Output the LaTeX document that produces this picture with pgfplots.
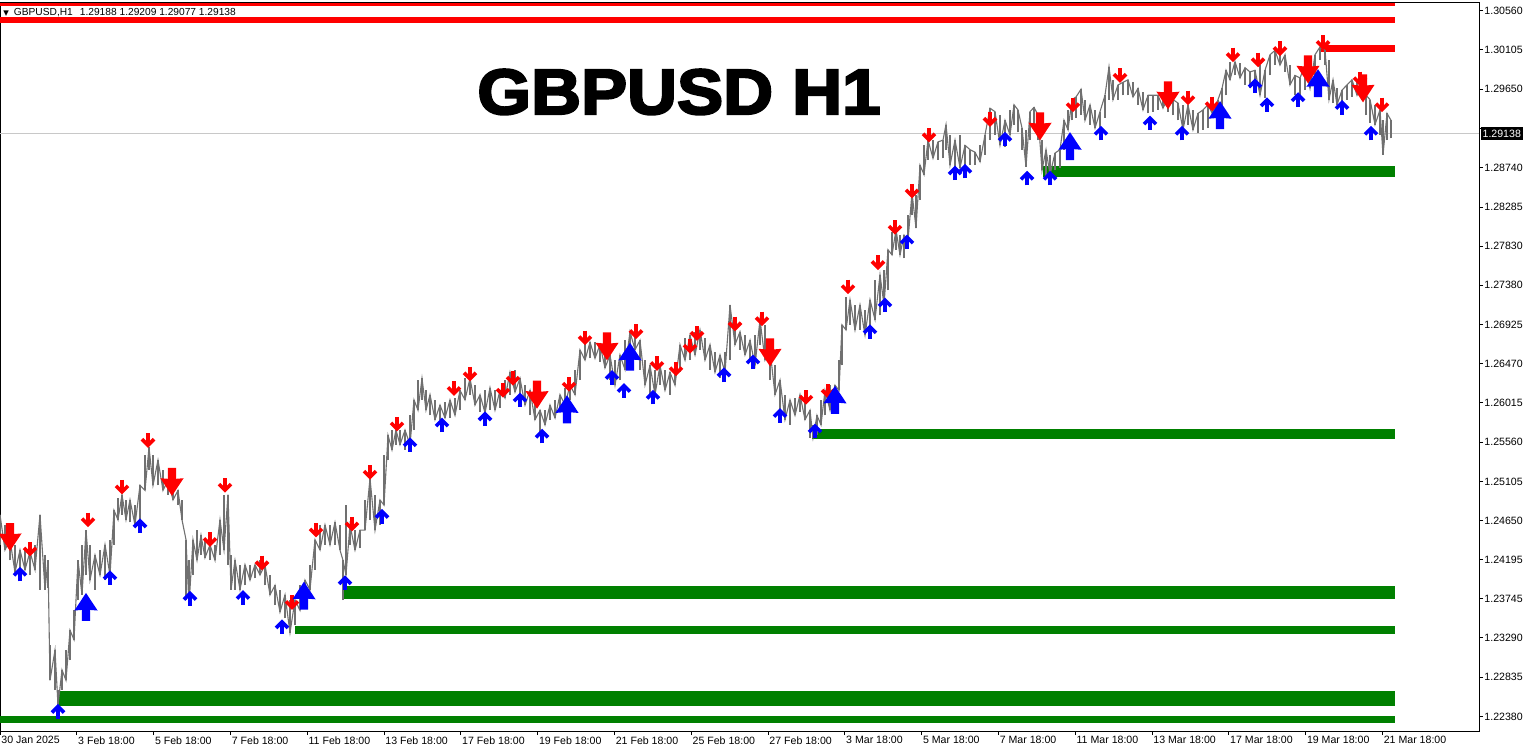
\documentclass[border=0pt]{standalone}
\usepackage{pgfplots}
\pgfplotsset{compat=1.18}
\usepackage{pgfplotstable}
\usepackage{fontspec}
\setmainfont{Liberation Sans}
\newfontfamily\titlefont{Liberation Sans}[BoldFeatures={FakeBold=3.5,FakeStretch=1.08}]
\newfontfamily\dejavu{DejaVu Sans}
\definecolor{mtred}{RGB}{255,0,0}
\definecolor{mtgreen}{RGB}{0,128,0}
\definecolor{mtblue}{RGB}{0,0,255}
\definecolor{barg}{RGB}{112,112,112}
\definecolor{cpline}{RGB}{200,200,200}

\pgfdeclareplotmark{sdn}{%
  \pgfsetlinewidth{1.8pt}\pgfsetbuttcap\pgfsetmiterjoin
  \pgfpathmoveto{\pgfpoint{0pt}{3.6pt}}\pgfpathlineto{\pgfpoint{0pt}{-2.0pt}}\pgfusepathqstroke
  \pgfpathmoveto{\pgfpoint{-3.0pt}{0.6pt}}\pgfpathlineto{\pgfpoint{0pt}{-2.4pt}}\pgfpathlineto{\pgfpoint{3.0pt}{0.6pt}}\pgfusepathqstroke}
\pgfdeclareplotmark{sup}{%
  \pgfsetlinewidth{1.8pt}\pgfsetbuttcap\pgfsetmiterjoin
  \pgfpathmoveto{\pgfpoint{0pt}{-3.6pt}}\pgfpathlineto{\pgfpoint{0pt}{2.0pt}}\pgfusepathqstroke
  \pgfpathmoveto{\pgfpoint{-3.0pt}{-0.6pt}}\pgfpathlineto{\pgfpoint{0pt}{2.4pt}}\pgfpathlineto{\pgfpoint{3.0pt}{-0.6pt}}\pgfusepathqstroke}
\pgfdeclareplotmark{bdn}{%
  \pgfpathmoveto{\pgfpoint{-2.1pt}{7pt}}\pgfpathlineto{\pgfpoint{2.1pt}{7pt}}
  \pgfpathlineto{\pgfpoint{2.1pt}{1.5pt}}\pgfpathlineto{\pgfpoint{5.8pt}{1.8pt}}
  \pgfpathlineto{\pgfpoint{0pt}{-7pt}}\pgfpathlineto{\pgfpoint{-5.8pt}{1.8pt}}
  \pgfpathlineto{\pgfpoint{-2.1pt}{1.5pt}}\pgfpathclose\pgfusepathqfill}
\pgfdeclareplotmark{bup}{%
  \pgfpathmoveto{\pgfpoint{-2.1pt}{-7pt}}\pgfpathlineto{\pgfpoint{2.1pt}{-7pt}}
  \pgfpathlineto{\pgfpoint{2.1pt}{-1.5pt}}\pgfpathlineto{\pgfpoint{5.8pt}{-1.8pt}}
  \pgfpathlineto{\pgfpoint{0pt}{7pt}}\pgfpathlineto{\pgfpoint{-5.8pt}{-1.8pt}}
  \pgfpathlineto{\pgfpoint{-2.1pt}{-1.5pt}}\pgfpathclose\pgfusepathqfill}

\pgfplotstableread{
x hi lo
0 1.2472 1.2437
5 1.2460 1.2431
10 1.2443 1.2419
15 1.2437 1.2405
20 1.2431 1.2402
25 1.2433 1.2408
30 1.2429 1.2402
35 1.2437 1.2408
40 1.2472 1.2385
45 1.2425 1.2385
48 1.2419 1.2387
50 1.2321 1.2280
55 1.2315 1.2269
58 1.2269 1.2251
62 1.2292 1.2269
66 1.2315 1.2280
70 1.2338 1.2303
74 1.2361 1.2327
78 1.2419 1.2373
82 1.2437 1.2379
86 1.2454 1.2402
90 1.2437 1.2396
95 1.2425 1.2385
100 1.2431 1.2402
105 1.2437 1.2396
110 1.2443 1.2402
114 1.2477 1.2437
118 1.2491 1.2466
122 1.2495 1.2472
126 1.2489 1.2466
130 1.2489 1.2463
135 1.2483 1.2460
140 1.2506 1.2466
145 1.2541 1.2500
149 1.2550 1.2524
153 1.2541 1.2506
158 1.2535 1.2506
163 1.2524 1.2500
168 1.2512 1.2495
173 1.2506 1.2489
178 1.2500 1.2483
182 1.2489 1.2466
186 1.2443 1.2373
189 1.2419 1.2367
193 1.2443 1.2402
197 1.2454 1.2419
201 1.2448 1.2425
205 1.2443 1.2422
210 1.2437 1.2419
215 1.2437 1.2419
220 1.2466 1.2425
224 1.2495 1.2431
228 1.2495 1.2414
231 1.2425 1.2385
235 1.2419 1.2385
240 1.2414 1.2385
245 1.2414 1.2390
250 1.2414 1.2396
255 1.2414 1.2398
260 1.2419 1.2402
265 1.2414 1.2390
270 1.2402 1.2379
275 1.2390 1.2367
280 1.2385 1.2359
285 1.2379 1.2352
290 1.2373 1.2335
295 1.2373 1.2344
300 1.2390 1.2361
305 1.2396 1.2373
310 1.2414 1.2385
315 1.2443 1.2408
320 1.2460 1.2431
325 1.2460 1.2437
330 1.2460 1.2437
335 1.2463 1.2437
340 1.2460 1.2431
343 1.2419 1.2373
346 1.2483 1.2402
350 1.2460 1.2437
355 1.2454 1.2431
360 1.2454 1.2433
365 1.2489 1.2454
370 1.2514 1.2466
375 1.2495 1.2454
380 1.2489 1.2460
384 1.2541 1.2483
388 1.2564 1.2535
392 1.2570 1.2547
396 1.2570 1.2553
400 1.2570 1.2553
405 1.2570 1.2547
410 1.2587 1.2553
414 1.2605 1.2570
418 1.2628 1.2593
422 1.2630 1.2605
426 1.2616 1.2593
430 1.2611 1.2587
435 1.2605 1.2582
440 1.2599 1.2582
445 1.2602 1.2584
450 1.2605 1.2584
455 1.2607 1.2587
460 1.2616 1.2593
465 1.2630 1.2605
470 1.2630 1.2611
475 1.2622 1.2599
480 1.2611 1.2591
485 1.2616 1.2590
490 1.2619 1.2593
495 1.2616 1.2593
500 1.2616 1.2596
505 1.2628 1.2607
510 1.2637 1.2611
515 1.2640 1.2614
520 1.2630 1.2607
525 1.2622 1.2599
530 1.2616 1.2587
535 1.2611 1.2582
540 1.2593 1.2568
545 1.2593 1.2576
550 1.2599 1.2582
555 1.2605 1.2584
560 1.2611 1.2593
565 1.2619 1.2599
570 1.2622 1.2605
575 1.2640 1.2611
580 1.2663 1.2628
585 1.2674 1.2651
590 1.2672 1.2653
595 1.2672 1.2653
600 1.2669 1.2649
605 1.2663 1.2642
610 1.2657 1.2628
615 1.2651 1.2622
620 1.2657 1.2628
625 1.2674 1.2640
630 1.2684 1.2657
635 1.2686 1.2663
640 1.2674 1.2640
645 1.2651 1.2622
650 1.2645 1.2611
655 1.2640 1.2611
660 1.2645 1.2622
665 1.2640 1.2616
670 1.2637 1.2611
675 1.2642 1.2622
680 1.2669 1.2637
685 1.2677 1.2651
690 1.2680 1.2651
695 1.2684 1.2657
700 1.2686 1.2663
705 1.2677 1.2651
710 1.2669 1.2640
715 1.2660 1.2637
720 1.2657 1.2630
725 1.2660 1.2637
730 1.2715 1.2651
735 1.2692 1.2669
740 1.2684 1.2663
745 1.2680 1.2657
750 1.2674 1.2651
755 1.2680 1.2645
760 1.2698 1.2669
765 1.2692 1.2651
770 1.2663 1.2628
775 1.2645 1.2611
780 1.2628 1.2593
785 1.2611 1.2582
790 1.2605 1.2576
795 1.2607 1.2587
800 1.2611 1.2591
805 1.2611 1.2582
810 1.2593 1.2561
813 1.2576 1.2561
817 1.2587 1.2564
821 1.2605 1.2576
825 1.2616 1.2587
830 1.2622 1.2593
835 1.2622 1.2599
839 1.2651 1.2616
842 1.2692 1.2645
846 1.2724 1.2686
850 1.2721 1.2692
855 1.2715 1.2686
860 1.2715 1.2686
865 1.2709 1.2680
870 1.2721 1.2692
875 1.2744 1.2698
880 1.2750 1.2703
884 1.2756 1.2715
888 1.2779 1.2732
892 1.2800 1.2773
896 1.2802 1.2779
900 1.2796 1.2773
904 1.2796 1.2769
908 1.2819 1.2790
912 1.2845 1.2819
916 1.2842 1.2804
920 1.2877 1.2837
924 1.2900 1.2866
928 1.2906 1.2883
933 1.2906 1.2885
938 1.2904 1.2883
943 1.2906 1.2885
946 1.2924 1.2895
950 1.2912 1.2877
955 1.2906 1.2871
960 1.2912 1.2874
965 1.2900 1.2874
970 1.2895 1.2877
975 1.2892 1.2877
980 1.2900 1.2881
985 1.2912 1.2889
990 1.2943 1.2906
995 1.2939 1.2912
1000 1.2935 1.2900
1005 1.2929 1.2898
1010 1.2941 1.2912
1014 1.2947 1.2924
1018 1.2941 1.2915
1022 1.2920 1.2895
1026 1.2918 1.2875
1030 1.2939 1.2906
1034 1.2944 1.2918
1038 1.2935 1.2906
1042 1.2906 1.2871
1046 1.2895 1.2863
1050 1.2889 1.2866
1055 1.2891 1.2871
1060 1.2895 1.2874
1064 1.2929 1.2895
1068 1.2941 1.2918
1072 1.2953 1.2929
1076 1.2956 1.2932
1081 1.2965 1.2935
1085 1.2953 1.2929
1090 1.2947 1.2924
1095 1.2941 1.2920
1100 1.2939 1.2918
1105 1.2958 1.2932
1109 1.2991 1.2953
1113 1.2976 1.2953
1118 1.2970 1.2953
1123 1.2973 1.2958
1128 1.2976 1.2958
1133 1.2973 1.2956
1138 1.2966 1.2947
1143 1.2962 1.2941
1148 1.2958 1.2937
1153 1.2958 1.2939
1158 1.2958 1.2941
1163 1.2958 1.2943
1168 1.2955 1.2939
1173 1.2953 1.2935
1178 1.2949 1.2929
1183 1.2947 1.2918
1188 1.2947 1.2924
1193 1.2941 1.2918
1198 1.2937 1.2914
1203 1.2941 1.2918
1208 1.2947 1.2920
1213 1.2953 1.2935
1218 1.2953 1.2939
1222 1.2966 1.2943
1226 1.2987 1.2958
1230 1.2997 1.2976
1235 1.2997 1.2981
1240 1.2995 1.2978
1245 1.2990 1.2970
1250 1.2985 1.2966
1255 1.2987 1.2964
1260 1.2993 1.2958
1265 1.2987 1.2955
1270 1.3005 1.2981
1275 1.3010 1.2993
1280 1.3008 1.2993
1285 1.3005 1.2985
1290 1.2993 1.2970
1295 1.2981 1.2958
1300 1.2978 1.2955
1305 1.2993 1.2964
1310 1.2999 1.2966
1315 1.3005 1.2976
1320 1.3014 1.2999
1325 1.3010 1.2993
1329 1.2999 1.2953
1333 1.2976 1.2949
1337 1.2966 1.2947
1342 1.2964 1.2947
1347 1.2970 1.2953
1352 1.2976 1.2956
1357 1.2973 1.2958
1362 1.2970 1.2953
1366 1.2958 1.2935
1370 1.2953 1.2926
1375 1.2947 1.2924
1380 1.2941 1.2912
1383 1.2929 1.2889
1387 1.2937 1.2906
1391 1.2929 1.2908
}\bars

\begin{document}
\begin{tikzpicture}
\useasboundingbox (0,-10.5pt) rectangle (766pt,365.5pt);
\fill[white] (0,-10.5pt) rectangle (766pt,365.5pt);
\begin{axis}[
  at={(0,0)}, anchor=south west, scale only axis,
  width=739.5pt, height=364.5pt,
  xmin=0, xmax=1479, ymin=1.22212, ymax=1.30661,
  axis line style={black, line width=0.5pt},
  tick align=outside, major tick length=2pt,
  tick style={black, line width=0.5pt},
  xtick pos=bottom, ytick pos=right, yticklabel pos=right,
  xtick={0,76.8,153.6,230.4,307.2,384,460.8,537.6,614.4,691.2,768,844.8,921.6,998.4,1075.2,1152,1228.8,1305.6,1382.4},
  xticklabels={30 Jan 2025,3 Feb 18:00,5 Feb 18:00,7 Feb 18:00,11 Feb 18:00,13 Feb 18:00,17 Feb 18:00,19 Feb 18:00,21 Feb 18:00,25 Feb 18:00,27 Feb 18:00,3 Mar 18:00,5 Mar 18:00,7 Mar 18:00,11 Mar 18:00,13 Mar 18:00,17 Mar 18:00,19 Mar 18:00,21 Mar 18:00},
  ytick={1.30560,1.30105,1.29650,1.29195,1.28740,1.28285,1.27830,1.27380,1.26925,1.26470,1.26015,1.25560,1.25105,1.24650,1.24195,1.23745,1.23290,1.22835,1.22380},
  yticklabels={1.30560,1.30105,1.29650,,1.28740,1.28285,1.27830,1.27380,1.26925,1.26470,1.26015,1.25560,1.25105,1.24650,1.24195,1.23745,1.23290,1.22835,1.22380},
  ticklabel style={font=\fontsize{5.3}{6}\selectfont, inner sep=0.5pt},
  xticklabel style={anchor=north west, xshift=0pt},
  yticklabel style={anchor=west},
  /pgf/number format/assume math mode=true,
  clip=true,
]
% current price line
\addplot[cpline, line width=0.5pt, forget plot] coordinates {(0,1.29138) (1479,1.29138)};
% red zones
\addplot[mtred, line width=1.5pt, forget plot] coordinates {(0,1.30632) (1395,1.30632)};
\addplot[mtred, line width=3pt, forget plot] coordinates {(0,1.30452) (1395,1.30452)};
\addplot[mtred, line width=3.5pt, forget plot] coordinates {(1321,1.3012) (1395,1.3012)};
% green zones
\addplot[mtgreen, line width=5.5pt, forget plot] coordinates {(1043,1.2870) (1395,1.2870)};
\addplot[mtgreen, line width=5pt, forget plot] coordinates {(812,1.2566) (1395,1.2566)};
\addplot[mtgreen, line width=6.5pt, forget plot] coordinates {(342,1.2382) (1395,1.2382)};
\addplot[mtgreen, line width=4pt, forget plot] coordinates {(295,1.2338) (1395,1.2338)};
\addplot[mtgreen, line width=7.5pt, forget plot] coordinates {(58,1.2259) (1395,1.2259)};
\addplot[mtgreen, line width=3.5pt, forget plot] coordinates {(0,1.2235) (1395,1.2235)};
% price bars
\addplot[draw=none, mark=none, forget plot,
  error bars/.cd, y dir=plus, y explicit, error mark=none,
  error bar style={draw=barg, line width=0.65pt}]
  table[x=x, y=lo, y error expr=\thisrow{hi}-\thisrow{lo}] {\bars};
\addplot[barg, line width=0.55pt, mark=none, forget plot]
  table[x=x, y expr={ifthenelse(mod(\coordindex,2)==1,\thisrow{lo},\thisrow{hi})}] {\bars};
% small red down arrows
\addplot[only marks, mark=sdn, color=mtred, forget plot] coordinates {
(30,1.2432) (88,1.2466) (122,1.2504) (148,1.2558) (210,1.2443) (225,1.2506)
(262,1.2416) (292,1.2370) (316,1.2454) (352,1.2461) (370,1.2521) (397,1.2577)
(454,1.2618) (470,1.2635) (503,1.2616) (513,1.2630) (569,1.2623) (585,1.2677)
(636,1.2684) (657,1.2647) (676,1.2641) (690,1.2667) (697,1.2682) (735,1.2693)
(762,1.2699) (806,1.2608) (828,1.2615) (848,1.2736) (878,1.2764) (895,1.2805)
(912,1.2847) (929,1.2912) (990,1.2930) (1073,1.2947) (1120,1.2981) (1188,1.2955)
(1212,1.2948) (1233,1.3005) (1258,1.2999) (1280,1.3012) (1323,1.3019) (1360,1.2977)
(1382,1.2947)};
% big red down arrows
\addplot[only marks, mark=bdn, color=mtred, forget plot] coordinates {
(10,1.2446) (172,1.2510) (537,1.2611) (607,1.2667) (770,1.2660) (1040,1.2922)
(1168,1.2958) (1308,1.2988) (1363,1.2966)};
% small blue up arrows
\addplot[only marks, mark=sup, color=mtblue, forget plot] coordinates {
(20,1.2403) (58,1.2244) (110,1.2399) (140,1.2459) (190,1.2375) (243,1.2376)
(282,1.2342) (345,1.2393) (382,1.2470) (410,1.2553) (442,1.2576) (485,1.2583)
(520,1.2605) (542,1.2563) (612,1.2631) (624,1.2616) (653,1.2608) (724,1.2634)
(753,1.2649) (780,1.2587) (815,1.2569) (870,1.2684) (885,1.2715) (907,1.2788)
(955,1.2868) (965,1.2870) (1005,1.2907) (1027,1.2862) (1050,1.2862) (1101,1.2914)
(1150,1.2926) (1182,1.2914) (1255,1.2969) (1267,1.2947) (1298,1.2953) (1342,1.2944)
(1371,1.2914)};
% big blue up arrows
\addplot[only marks, mark=bup, color=mtblue, forget plot] coordinates {
(86,1.2365) (304,1.2378) (567,1.2594) (630,1.2655) (835,1.2605) (1070,1.2899)
(1220,1.2935) (1318,1.2972)};
% texts
\node[anchor=base, inner sep=0pt, font=\titlefont\bfseries\fontsize{32}{36}\selectfont] at (axis cs:679,1.29363) {GBPUSD H1};
\node[anchor=west, inner sep=0pt, font=\fontsize{5.1}{6}\selectfont] at (axis cs:3,1.30539) {{\dejavu\fontsize{3.6}{4}\selectfont ▼}\hspace{2.5pt}GBPUSD,H1\hspace{3.5pt}1.29188 1.29209 1.29077 1.29138};
\coordinate (cp) at (axis cs:1479,1.29138);
\end{axis}
\node[anchor=west, fill=black, text=white, inner xsep=1pt, inner ysep=0pt, minimum height=6.5pt, font=\fontsize{5.3}{6}\selectfont] at ([xshift=0.6pt]cp) {1.29138};
\end{tikzpicture}
\end{document}
